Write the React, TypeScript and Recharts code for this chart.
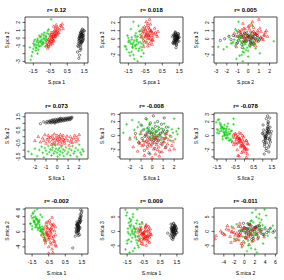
import React from 'react';
import { ScatterChart, Scatter, XAxis, YAxis, ReferenceArea } from 'recharts';

type T = [number, number, number];

// ---------- PCA scores (component 1, 2, 3) ----------
const pcaSetosa: T[] = [[1.38,0.45,0.12],[1.18,-0.35,-0.4],[1.3,0.1,0.3],[1.4,-0.2,0.05],[1.35,0.85,0.4],[1.3,-0.9,-0.2],[1.22,0.3,-0.6],[1.42,0.05,0.22],[1.25,-1.6,-0.1],[1.28,0.6,0.7],[1.36,-0.5,0.15],[1.48,0.95,-0.3],[1.15,-0.7,0.5],[1.37,0.2,-0.15],[1.4,1.15,0.1],[1.28,-1.2,0.35],[1.26,0.4,-0.45],[1.45,-0.1,0.6],[1.31,0.7,-0.05],[1.33,-0.6,-0.7],[1.2,0.0,0.25],[1.22,-2.2,0.0],[1.44,0.55,0.45],[1.32,-0.4,-0.25],[1.27,0.25,0.85],[1.12,-1.0,-0.5],[1.5,0.9,0.2],[1.21,-0.25,-0.35],[1.41,0.35,0.05],[1.3,-1.4,0.4],[1.34,0.15,-0.8],[1.39,-0.45,0.3],[1.29,0.75,0.55],[1.18,-2.6,-0.2],[1.24,0.1,-0.1],[1.43,-0.3,0.65],[1.33,0.5,-0.55],[1.26,-0.8,0.1],[1.36,1.05,-0.15],[1.19,-0.05,0.4],[1.31,-0.55,-1.1],[1.46,0.3,0.15],[1.1,-1.8,0.25],[1.29,-0.15,-0.3],[1.38,0.65,0.0],[1.23,-0.65,0.5],[1.4,0.2,-0.4],[1.16,-1.1,-0.6],[1.34,0.45,0.3],[1.25,-0.35,0.75]];
const pcaVersicolor: T[] = [[-0.3,0.2,0.5],[-0.5,-0.3,1.2],[-0.15,0.8,-0.3],[-0.6,-0.8,0.9],[-0.05,1.2,0.2],[-0.4,0.1,1.6],[-0.25,0.6,-0.6],[-0.7,-1.0,0.3],[0.1,1.6,0.8],[-0.35,-0.2,0.0],[-0.45,0.4,2.1],[-0.2,0.9,1.0],[-0.55,-0.5,-0.4],[0.0,0.7,0.6],[-0.3,0.5,1.4],[-0.65,-1.3,0.7],[-0.1,1.4,-0.1],[-0.4,-0.1,0.4],[-0.2,0.3,1.8],[-0.5,-0.6,1.1],[0.2,1.8,0.3],[-0.35,0.7,-0.9],[-0.75,-0.6,0.2],[-0.15,0.5,0.9],[-0.45,-0.4,0.5],[-0.25,1.0,2.4],[-0.6,-0.2,-0.2],[0.05,1.1,1.3],[-0.3,-0.3,0.1],[-0.1,0.9,0.7],[-0.55,0.0,1.5],[-0.2,1.3,0.0],[-0.4,0.2,-0.5],[-0.7,-0.9,1.0],[0.15,1.5,0.5],[-0.3,0.4,0.8],[-0.5,-0.9,0.3],[-0.25,0.1,1.2],[-0.05,0.6,-0.2],[-0.45,0.7,0.6],[-0.6,-1.1,-1.0],[-0.15,1.7,1.0],[-0.35,-0.5,1.9],[-0.2,0.2,0.4],[0.25,1.2,0.9],[-0.5,0.3,0.2],[-0.65,-0.4,1.3],[-0.1,0.4,-0.7],[-0.4,-0.7,0.8],[-0.3,1.5,0.4]];
const pcaVirginica: T[] = [[-1.1,-0.5,-0.8],[-1.3,-0.9,0.2],[-0.9,0.0,-1.5],[-1.5,-1.4,-0.4],[-0.8,0.3,0.5],[-1.2,-0.6,-2.0],[-1.0,-0.2,-0.1],[-1.65,-2.8,-1.0],[-0.7,0.6,-0.6],[-1.35,-1.2,1.2],[-1.05,-0.4,-1.2],[-0.95,-0.8,0.3],[-1.25,-0.3,-0.7],[-0.6,1.1,-1.8],[-1.45,-1.0,-0.2],[-0.85,-0.1,0.9],[-1.15,-1.1,-2.5],[-1.55,-1.8,0.4],[-0.75,0.2,-1.0],[-1.0,-0.7,-0.3],[-1.3,-0.5,-1.6],[-0.9,0.4,1.6],[-1.2,-1.5,-0.5],[-1.6,-2.3,-1.3],[-0.65,0.9,0.0],[-1.1,0.1,-0.9],[-1.4,-0.8,-2.1],[-0.8,-0.3,-0.4],[-1.05,-1.0,0.7],[-1.25,-0.1,-1.1],[-0.45,2.4,-0.3],[-1.35,-1.6,-0.6],[-0.95,-0.5,-2.8],[-1.15,0.3,-0.2],[-0.7,-0.2,-1.4],[-1.5,-0.7,0.1],[-1.0,0.5,-0.7],[-1.2,-0.9,2.1],[-0.85,0.7,-1.2],[-1.7,-1.2,-0.9],[-1.1,-0.4,0.4],[-0.75,0.0,-2.2],[-1.3,-1.3,-0.1],[-0.9,-0.6,-0.5],[-1.45,-0.4,-1.7],[-1.05,0.2,0.2],[-0.6,0.5,-0.8],[-1.25,-2.0,-1.0],[-0.8,-1.1,1.0],[-1.4,-0.2,-0.4]];

// ---------- FICA scores ----------
const ficaSetosa: T[] = [[-1.5,0.98,0.3],[-1.2,1.12,-1.0],[-1.0,1.02,1.5],[-0.9,1.15,-0.4],[-0.8,1.05,0.8],[-0.7,1.18,-2.1],[-0.6,1.07,0.1],[-0.55,1.2,2.4],[-0.5,1.04,-0.8],[-0.45,1.24,0.5],[-0.4,1.1,-1.5],[-0.35,1.27,1.1],[-0.3,1.12,-0.2],[-0.25,1.22,0.7],[-0.2,1.08,-2.6],[-0.15,1.3,1.8],[-0.1,1.14,-0.5],[-0.05,1.25,0.2],[0.0,1.1,-1.2],[0.05,1.31,0.9],[0.1,1.17,-0.1],[0.12,1.26,2.8],[0.15,1.13,-0.7],[0.2,1.33,0.4],[0.25,1.2,-1.8],[0.3,1.29,1.3],[0.35,1.16,-0.3],[0.4,1.36,0.6],[0.45,1.22,-1.0],[0.5,1.3,2.0],[0.55,1.19,0.0],[0.6,1.38,-0.6],[0.65,1.25,1.0],[0.7,1.33,-2.3],[0.75,1.22,0.3],[0.8,1.4,-0.2],[0.85,1.28,1.6],[0.9,1.36,-1.3],[0.95,1.25,0.5],[1.0,1.42,-0.9],[1.05,1.3,0.8],[1.1,1.38,2.5],[1.15,1.28,-0.4],[1.2,1.44,0.2],[1.25,1.33,-1.6],[1.3,1.4,1.2],[-0.65,1.12,-0.1],[-0.2,1.02,0.4],[0.3,1.38,-0.5],[1.35,1.47,0.6]];
const ficaVersicolor: T[] = [[-2.0,-0.3,-0.5],[-1.7,0.0,-1.6],[-1.5,-0.4,-0.2],[-1.3,-0.1,-2.2],[-1.1,0.15,-1.1],[-1.0,-0.5,0.3],[-0.9,-0.2,-1.4],[-0.8,0.1,-0.7],[-0.7,-0.35,-2.8],[-0.6,-0.05,-0.9],[-0.5,-0.6,0.1],[-0.45,0.05,-1.8],[-0.4,-0.25,-0.4],[-0.3,-0.15,-2.4],[-0.25,0.2,-1.2],[-0.2,-0.45,-0.6],[-0.1,-0.1,-1.5],[-0.05,-0.3,0.4],[0.0,0.1,-3.1],[0.05,-0.2,-0.8],[0.1,-0.55,-0.3],[0.15,0.0,-1.9],[0.2,-0.35,-1.0],[0.25,-0.1,0.0],[0.3,0.15,-2.6],[0.35,-0.25,-0.5],[0.4,-0.6,-1.3],[0.45,-0.05,-0.2],[0.5,-0.4,-2.0],[0.55,0.1,-0.7],[0.6,-0.2,-1.6],[0.7,-0.5,0.2],[0.8,-0.15,-1.1],[0.9,0.05,-2.3],[1.0,-0.3,-0.4],[1.1,-0.65,-0.9],[1.2,0.0,-1.7],[1.3,-0.2,0.3],[1.4,-0.45,-1.2],[1.5,-0.1,-0.6],[1.6,0.1,-2.0],[1.7,-0.35,-0.1],[1.8,-0.05,-1.4],[1.9,-0.25,-0.8],[2.0,0.15,-1.9],[-1.2,-0.3,-0.9],[-0.35,-0.5,-1.0],[0.65,-0.3,-2.9],[1.25,-0.4,-0.3],[-0.75,-0.1,-1.3]];
const ficaVirginica: T[] = [[-2.6,-1.1,0.4],[-2.3,-1.3,1.6],[-2.0,-0.9,-0.3],[-1.8,-1.45,2.2],[-1.6,-1.0,0.8],[-1.4,-0.75,-0.5],[-1.3,-1.2,1.2],[-1.2,-1.55,1.9],[-1.1,-0.85,0.2],[-1.0,-1.05,0.6],[-0.9,-1.3,1.4],[-0.8,-0.7,-0.8],[-0.7,-1.15,0.9],[-0.6,-0.95,0.0],[-0.5,-1.4,2.3],[-0.45,-1.0,1.0],[-0.4,-0.8,0.3],[-0.3,-1.25,0.7],[-0.2,-1.1,1.5],[-0.15,-0.65,-0.2],[-0.1,-0.9,0.5],[0.0,-1.2,1.1],[0.05,-1.5,0.4],[0.1,-1.0,-0.4],[0.2,-0.85,0.9],[0.25,-1.35,1.8],[0.3,-1.1,0.2],[0.4,-0.75,0.6],[0.5,-1.2,-0.1],[0.55,-0.95,1.3],[0.6,-1.45,0.8],[0.7,-1.05,0.1],[0.8,-0.8,-0.6],[0.9,-1.3,1.0],[1.0,-1.15,0.5],[1.1,-0.9,1.7],[1.2,-1.4,0.3],[1.3,-1.0,-0.3],[1.4,-0.7,0.7],[1.5,-1.25,1.2],[1.6,-1.1,0.0],[1.7,-0.85,-0.7],[1.8,-1.5,0.9],[1.9,-1.0,0.4],[2.0,-0.6,2.4],[2.1,-1.2,-0.5],[2.2,-1.35,0.6],[2.3,-0.95,0.2],[2.4,-1.1,1.0],[-0.25,-0.6,1.6]];

// ---------- MICA scores ----------
const micaSetosa: T[] = [[1.3,1.5,0.5],[1.2,0.8,-1.2],[1.4,2.5,1.8],[1.25,-0.5,0.2],[1.35,3.2,-0.6],[1.15,1.0,2.5],[1.45,4.0,0.9],[1.3,0.2,-2.1],[1.2,2.0,1.2],[1.5,5.5,-0.3],[1.28,1.2,0.0],[1.38,2.8,2.0],[1.1,-1.2,-1.5],[1.32,0.6,1.0],[1.42,3.6,-1.0],[1.22,1.8,0.6],[1.3,-0.2,2.8],[1.4,4.6,0.3],[1.18,0.4,-0.8],[1.35,2.2,1.5],[1.25,1.4,-2.8],[1.48,5.0,1.1],[1.3,0.9,-0.2],[1.2,2.6,0.8],[1.36,-0.8,1.7],[1.27,1.6,-1.7],[1.44,3.0,0.4],[1.15,0.0,1.3],[1.33,2.4,-0.5],[1.24,1.1,2.2],[1.38,3.8,-1.3],[1.3,0.5,0.7],[1.21,1.9,-0.1],[1.41,2.9,1.9],[1.29,-1.0,0.1],[1.35,1.3,-0.9],[1.23,2.1,1.4],[1.46,4.3,-0.4],[1.31,0.7,2.6],[1.19,1.7,-2.4],[1.37,3.4,0.6],[1.26,0.3,1.0],[1.34,2.3,-1.1],[0.95,-4.3,-0.6],[1.3,1.5,1.6],[1.22,0.1,-0.3],[1.43,5.8,0.2],[1.28,2.7,-2.0],[1.39,1.0,0.9],[1.17,-0.3,0.4]];
const micaVersicolor: T[] = [[-0.5,-1.0,-1.0],[-0.3,0.5,-2.5],[-0.7,1.5,0.5],[-0.2,-2.5,-0.2],[-0.6,-0.2,-3.5],[-0.4,2.2,1.5],[-0.8,0.8,-1.6],[-0.1,-3.5,0.8],[-0.55,-1.5,-0.6],[-0.35,1.0,2.3],[-0.65,-0.6,-4.2],[-0.25,-1.8,-1.3],[-0.45,3.0,0.0],[-0.75,-2.2,1.2],[-0.15,0.2,-2.0],[-0.5,-4.0,-0.9],[-0.3,1.8,-3.0],[-0.6,-0.9,2.8],[-0.4,-2.8,-1.8],[-0.85,0.4,-0.3],[-0.2,-1.2,1.7],[-0.55,2.6,-2.3],[-0.35,-0.4,-4.8],[-0.7,-3.0,0.4],[-0.1,1.3,-1.1],[-0.45,-1.6,-2.7],[-0.25,-5.5,-1.5],[-0.65,0.0,1.0],[-0.5,-2.0,-0.4],[-0.3,3.8,-1.9],[-0.8,-1.3,-2.9],[-0.4,0.7,0.3],[-0.15,-2.6,-3.8],[-0.6,1.1,-0.8],[-0.35,-3.3,2.0],[-0.55,-0.7,-1.4],[-0.2,2.0,0.7],[-0.75,-1.9,-3.2],[-0.45,0.3,-2.2],[-0.3,-4.6,0.1],[-0.65,2.4,-1.0],[-0.1,-0.8,-0.5],[-0.5,-5.7,-2.6],[-0.4,-0.1,1.4],[-0.25,1.5,-3.4],[-0.7,-2.4,-0.1],[-0.35,-1.1,-1.7],[-0.55,0.9,-4.5],[-0.9,-0.5,0.9],[-0.05,-3.8,-1.2]];
const micaVirginica: T[] = [[-1.2,2.0,0.5],[-1.0,1.0,-2.0],[-1.4,3.0,3.0],[-0.9,0.0,-4.0],[-1.3,4.0,1.5],[-1.1,2.5,-1.0],[-1.5,1.5,6.5],[-0.8,-0.5,-5.5],[-1.25,3.5,2.2],[-1.05,1.8,-0.5],[-1.35,2.8,4.5],[-0.95,-1.0,-3.0],[-1.45,5.0,1.0],[-1.15,0.5,-6.8],[-1.2,3.2,0.0],[-0.7,-2.0,-2.5],[-1.6,2.2,7.5],[-1.0,4.5,-1.5],[-1.3,1.2,3.5],[-0.85,0.8,-4.8],[-1.1,2.7,1.8],[-1.4,3.8,-0.8],[-0.75,-1.5,2.5],[-1.25,1.6,-3.5],[-1.55,4.2,5.5],[-1.0,0.3,0.8],[-1.2,6.0,-2.2],[-0.9,1.4,3.8],[-1.35,2.4,-7.3],[-1.1,0.9,1.2],[-1.5,3.6,-4.2],[-0.8,-0.8,0.2],[-1.15,2.9,6.0],[-1.3,1.9,-1.2],[-0.95,0.6,2.8],[-1.45,4.8,-0.2],[-1.05,1.3,-5.8],[-0.65,-2.5,1.6],[-1.25,3.3,4.0],[-1.4,2.6,-2.8],[-1.0,0.1,0.0],[-1.6,2.1,-6.2],[-0.9,3.9,7.6],[-1.2,1.1,-0.6],[-1.35,5.5,2.0],[-0.85,-0.3,-1.8],[-1.15,2.3,5.0],[-1.5,0.7,-3.2],[-1.05,3.1,1.0],[-0.6,1.7,3.2]];

// ---------- axes ----------
const methodNames = ['pca', 'fica', 'mica'];
const pcaDomains = [[-1.99, 1.72], [-3.2, 2.7], [-3.0, 2.7]];
const ficaDomains = [[-2.9, 2.8], [-1.67, 1.78], [-3.3, 3.2]];
const micaDomains = [[-1.93, 1.87], [-5.9, 6.3], [-7.8, 8.1]];
const pcaTicks = [[-1.5, -0.5, 0.5, 1.5], [-3, -2, -1, 0, 1, 2], [-2, -1, 0, 1, 2]];
const ficaTicks = [[-2, -1, 0, 1, 2], [-1.5, -1, -0.5, 0, 0.5, 1, 1.5], [-3, -2, -1, 0, 1, 2, 3]];
const micaTicks = [[-1.5, -0.5, 0.5, 1.5], [-4, -2, 0, 2, 4, 6], [-5, 0, 5]];
const pcaXLabels = [[-1.5, -0.5, 0.5, 1.5], [-3, -2, -1, 0, 1, 2], [-2, -1, 0, 1, 2]];
const ficaXLabels = [[-2, -1, 0, 1, 2], [-1.5, -0.5, 0.5, 1.5], [-3, -2, -1, 0, 1, 2, 3]];
const micaXLabels = [[-1.5, -0.5, 0.5, 1.5], [-4, -2, 0, 2, 4, 6], [-5, 0, 5]];
const pcaYLabels = [[-1.5, -0.5, 0.5, 1.5], [-3, -1, 0, 1, 2], [-2, 0, 1, 2]];
const ficaYLabels = [[-2, -1, 0, 1, 2], [-1.5, -0.5, 0.5, 1.5], [-2, 0, 2, 3]];
const micaYLabels = [[-1.5, -0.5, 0.5, 1.5], [-4, 0, 4, 6], [-5, 0, 5]];
const titles = [
  ['r= 0.12', 'r= 0.018', 'r= 0.005'],
  ['r= 0.073', 'r= -0.008', 'r= -0.078'],
  ['r= -0.002', 'r= 0.009', 'r= -0.011'],
];
const pairs = [[0, 1], [0, 2], [1, 2]];

const groups = [
  [pcaSetosa, pcaVersicolor, pcaVirginica],
  [ficaSetosa, ficaVersicolor, ficaVirginica],
  [micaSetosa, micaVersicolor, micaVirginica],
];
const domains = [pcaDomains, ficaDomains, micaDomains];
const tickSets = [pcaTicks, ficaTicks, micaTicks];
const xLabelSets = [pcaXLabels, ficaXLabels, micaXLabels];
const yLabelSets = [pcaYLabels, ficaYLabels, micaYLabels];

const FONT = "'Liberation Sans', Arial, Helvetica, sans-serif";
const PW = 95;
const PH = 95;
const colLeft = [0, 95, 189];
const rowTop = [0, 95.5, 191];

const CircleShape = (p: any) => (
  <circle cx={p.cx} cy={p.cy} r={1.15} fill="none" stroke="#111" strokeWidth={0.5} />
);
const TriShape = (p: any) => {
  const s = 1.5;
  return (
    <polygon
      points={`${p.cx},${p.cy - s} ${p.cx - s * 0.9},${p.cy + s * 0.6} ${p.cx + s * 0.9},${p.cy + s * 0.6}`}
      fill="none"
      stroke="#ff0000"
      strokeWidth={0.5}
    />
  );
};
const PlusShape = (p: any) => {
  const s = 1.35;
  return (
    <path
      d={`M${p.cx - s},${p.cy}H${p.cx + s}M${p.cx},${p.cy - s}V${p.cy + s}`}
      stroke="#00cd00"
      strokeWidth={0.6}
      fill="none"
    />
  );
};

const fmt = (v: number) => String(v);

const XTick = (props: any) => {
  const { x, y, payload, shown } = props;
  if (!shown.includes(payload.value)) return <g />;
  return (
    <text x={x} y={y + 7.3} textAnchor="middle" fontSize={5} fontFamily={FONT} fill="#000">
      {fmt(payload.value)}
    </text>
  );
};

const YTick = (props: any) => {
  const { x, y, payload, shown } = props;
  if (!shown.includes(payload.value)) return <g />;
  return (
    <text
      transform={`translate(${x - 2.6},${y}) rotate(-90)`}
      textAnchor="middle"
      fontSize={5}
      fontFamily={FONT}
      fill="#000"
    >
      {fmt(payload.value)}
    </text>
  );
};

const XLab = (props: any) => {
  const vb = props.viewBox || { x: 25, y: 63, width: 63, height: 32 };
  return (
    <text x={vb.x + vb.width / 2} y={vb.y + 20.8} textAnchor="middle" fontSize={5} fontFamily={FONT} fill="#000">
      {props.text}
    </text>
  );
};

const YLab = (props: any) => {
  const vb = props.viewBox || { x: 0, y: 17, width: 25, height: 46 };
  return (
    <text
      transform={`translate(${vb.x + 8.5},${vb.y + vb.height / 2}) rotate(-90)`}
      textAnchor="middle"
      fontSize={5}
      fontFamily={FONT}
      fill="#000"
    >
      {props.text}
    </text>
  );
};

const Title = (props: any) => {
  const vb = props.viewBox || { x: 25, y: 17, width: 63, height: 46 };
  return (
    <text x={vb.x + vb.width / 2} y={vb.y - 5} textAnchor="middle" fontSize={6} fontWeight="bold" fontFamily={FONT} fill="#000">
      {props.text}
    </text>
  );
};

function Panel({ m, c }: { m: number; c: number }) {
  const [xi, yi] = pairs[c];
  const xDom = domains[m][xi];
  const yDom = domains[m][yi];
  const name = methodNames[m];
  const toXY = (arr: T[]) => arr.map((t) => ({ x: t[xi], y: t[yi] }));
  const [g1, g2, g3] = groups[m];
  return (
    <div style={{ position: 'absolute', left: colLeft[c], top: rowTop[m] }}>
      <ScatterChart width={PW} height={PH} margin={{ top: 17, right: 7, bottom: 0, left: 0 }}>
        <XAxis
          type="number"
          dataKey="x"
          domain={xDom}
          allowDataOverflow
          ticks={tickSets[m][xi]}
          interval={0}
          axisLine={false}
          tickLine={{ stroke: '#000', strokeWidth: 0.6 }}
          tickSize={2.5}
          tickMargin={0}
          height={32}
          tick={<XTick shown={xLabelSets[m][xi]} />}
          label={<XLab text={`S.${name} ${xi + 1}`} />}
        />
        <YAxis
          type="number"
          dataKey="y"
          domain={yDom}
          allowDataOverflow
          ticks={tickSets[m][yi]}
          interval={0}
          axisLine={false}
          tickLine={{ stroke: '#000', strokeWidth: 0.6 }}
          tickSize={2.5}
          tickMargin={0}
          width={25}
          tick={<YTick shown={yLabelSets[m][yi]} />}
          label={<YLab text={`S.${name} ${yi + 1}`} />}
        />
        <ReferenceArea
          x1={xDom[0]}
          x2={xDom[1]}
          y1={yDom[0]}
          y2={yDom[1]}
          fill="none"
          fillOpacity={0}
          stroke="#000"
          strokeWidth={0.7}
          label={<Title text={titles[m][c]} />}
        />
        <Scatter data={toXY(g1)} shape={CircleShape} isAnimationActive={false} />
        <Scatter data={toXY(g2)} shape={TriShape} isAnimationActive={false} />
        <Scatter data={toXY(g3)} shape={PlusShape} isAnimationActive={false} />
      </ScatterChart>
    </div>
  );
}

export default function App() {
  return (
    <div
      style={{
        position: 'absolute',
        left: 0,
        top: 0,
        width: 284,
        height: 280,
        overflow: 'hidden',
        background: '#fff',
      }}
    >
      {[0, 1, 2].map((m) =>
        [0, 1, 2].map((c) => <Panel key={`${m}-${c}`} m={m} c={c} />)
      )}
    </div>
  );
}
